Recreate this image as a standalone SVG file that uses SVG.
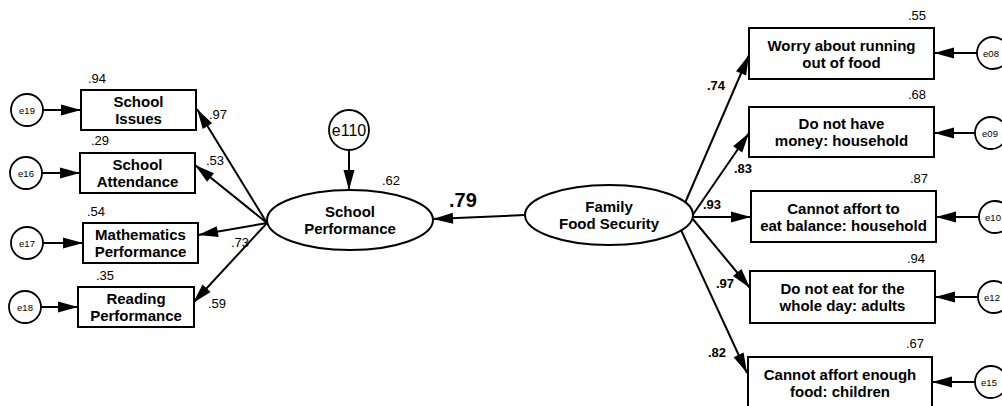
<svg xmlns="http://www.w3.org/2000/svg" width="1002" height="406" viewBox="0 0 1002 406">
<defs>
<marker id="ah" markerUnits="userSpaceOnUse" markerWidth="20" markerHeight="11" refX="20" refY="5.5" orient="auto" overflow="visible">
<path d="M0,0 L20,5.5 L0,11 z" fill="#000"/>
</marker>
<style>
text{font-family:"Liberation Sans",Arial,sans-serif;fill:#000}
.box{fill:#fff;stroke:#000;stroke-width:2}
.lat{fill:#fff;stroke:#000;stroke-width:2}
.err{fill:#fff;stroke:#000;stroke-width:1.8}
.bt{font-size:15px;font-weight:bold;text-anchor:middle}
.et{font-size:9.5px;text-anchor:middle}
.r2{font-size:13px}
.ld{font-size:13px}
.ldb{font-size:13px;font-weight:bold}
.c{fill:none;stroke:#000;stroke-width:2;marker-end:url(#ah)}
</style>
</defs>
<rect width="1002" height="406" fill="#fff"/>

<g id="connectors">
<line class="c" x1="43" y1="110" x2="81" y2="110"/>
<line class="c" x1="42" y1="173" x2="80" y2="173"/>
<line class="c" x1="43" y1="243" x2="83" y2="243"/>
<line class="c" x1="41" y1="307" x2="78" y2="307"/>
<line class="c" x1="267" y1="223" x2="197" y2="109"/>
<line class="c" x1="267" y1="223" x2="195" y2="165"/>
<line class="c" x1="267" y1="223" x2="198" y2="235"/>
<line class="c" x1="267" y1="223" x2="193" y2="303"/>
<line class="c" x1="349" y1="151" x2="349" y2="190"/>
<line class="c" x1="525" y1="215" x2="433" y2="219"/>
<line class="c" x1="685" y1="203" x2="749" y2="55"/>
<line class="c" x1="692" y1="216" x2="749" y2="133"/>
<line class="c" x1="693" y1="217" x2="751" y2="217"/>
<line class="c" x1="692" y1="218" x2="750" y2="288"/>
<line class="c" x1="681" y1="230" x2="747" y2="373"/>
<line class="c" x1="977" y1="53" x2="934" y2="53"/>
<line class="c" x1="975" y1="133" x2="934" y2="133"/>
<line class="c" x1="979" y1="217" x2="936" y2="217"/>
<line class="c" x1="978" y1="297" x2="935" y2="297"/>
<line class="c" x1="975" y1="382" x2="932" y2="382"/>
</g>

<g id="e19"><circle class="err" cx="27" cy="110" r="16"/><text class="et" x="27" y="113.5">e19</text></g>
<g id="e16"><circle class="err" cx="26" cy="173" r="16"/><text class="et" x="26" y="176.5">e16</text></g>
<g id="e17"><circle class="err" cx="27" cy="243" r="16"/><text class="et" x="27" y="246.5">e17</text></g>
<g id="e18"><circle class="err" cx="25" cy="307" r="16"/><text class="et" x="25" y="310.5">e18</text></g>

<g id="school-issues"><rect class="box" x="81" y="90" width="115" height="40"/><text class="bt" x="138.5" y="107">School</text><text class="bt" x="138.5" y="124">Issues</text><text class="r2" x="88" y="83">.94</text></g>
<g id="school-attendance"><rect class="box" x="80" y="153" width="115" height="40"/><text class="bt" x="137.5" y="170">School</text><text class="bt" x="137.5" y="187">Attendance</text><text class="r2" x="91" y="145">.29</text></g>
<g id="math-performance"><rect class="box" x="83" y="223" width="115" height="40"/><text class="bt" x="140.5" y="240">Mathematics</text><text class="bt" x="140.5" y="257">Performance</text><text class="r2" x="87" y="216">.54</text></g>
<g id="reading-performance"><rect class="box" x="78" y="287" width="116" height="40"/><text class="bt" x="136" y="304">Reading</text><text class="bt" x="136" y="321">Performance</text><text class="r2" x="96" y="280">.35</text></g>

<g id="left-loadings">
<text class="ld" x="209" y="119">.97</text>
<text class="ld" x="206" y="165">.53</text>
<text class="ld" x="231" y="247">.73</text>
<text class="ld" x="208" y="308">.59</text>
</g>

<g id="e110"><circle class="err" cx="349" cy="130" r="20"/><text x="349" y="136" font-size="16" text-anchor="middle">e110</text></g>

<g id="school-performance"><ellipse class="lat" cx="350" cy="220" rx="83" ry="30"/><text class="bt" x="350" y="217">School</text><text class="bt" x="350" y="234">Performance</text><text class="r2" x="382" y="185">.62</text></g>

<text x="449" y="207" font-size="20" font-weight="bold">.79</text>

<g id="family-food-security"><ellipse class="lat" cx="609" cy="215" rx="84" ry="30"/><text class="bt" x="609" y="212">Family</text><text class="bt" x="609" y="229">Food Security</text></g>

<g id="right-loadings">
<text class="ldb" x="707" y="90">.74</text>
<text class="ldb" x="734" y="173">.83</text>
<text class="ldb" x="703" y="209">.93</text>
<text class="ldb" x="716" y="288">.97</text>
<text class="ldb" x="708" y="357">.82</text>
</g>

<g id="worry"><rect class="box" x="749" y="28" width="185" height="51"/><text class="bt" x="841.5" y="50.5">Worry about running</text><text class="bt" x="841.5" y="67.5">out of food</text><text class="r2" x="908" y="20">.55</text></g>
<g id="no-money"><rect class="box" x="749" y="107" width="185" height="50"/><text class="bt" x="841.5" y="129">Do not have</text><text class="bt" x="841.5" y="146">money: household</text><text class="r2" x="908" y="99">.68</text></g>
<g id="balance"><rect class="box" x="751" y="191" width="185" height="51"/><text class="bt" x="843.5" y="213.5">Cannot affort to</text><text class="bt" x="843.5" y="230.5">eat balance: household</text><text class="r2" x="910" y="183">.87</text></g>
<g id="not-eat"><rect class="box" x="750" y="271" width="185" height="52"/><text class="bt" x="842.5" y="294">Do not eat for the</text><text class="bt" x="842.5" y="311">whole day: adults</text><text class="r2" x="907" y="263">.94</text></g>
<g id="enough-food"><rect class="box" x="748" y="357" width="184" height="52"/><text class="bt" x="840" y="380">Cannot affort enough</text><text class="bt" x="840" y="397">food: children</text><text class="r2" x="906" y="348">.67</text></g>

<g id="e08"><circle class="err" cx="993" cy="53" r="16"/><text class="et" x="991" y="56.5">e08</text></g>
<g id="e09"><circle class="err" cx="991" cy="133" r="16"/><text class="et" x="990" y="136.5">e09</text></g>
<g id="e10"><circle class="err" cx="995" cy="217" r="16"/><text class="et" x="993" y="220.5">e10</text></g>
<g id="e12"><circle class="err" cx="994" cy="297" r="16"/><text class="et" x="992" y="300.5">e12</text></g>
<g id="e15"><circle class="err" cx="991" cy="382" r="16"/><text class="et" x="989" y="385.5">e15</text></g>
</svg>
